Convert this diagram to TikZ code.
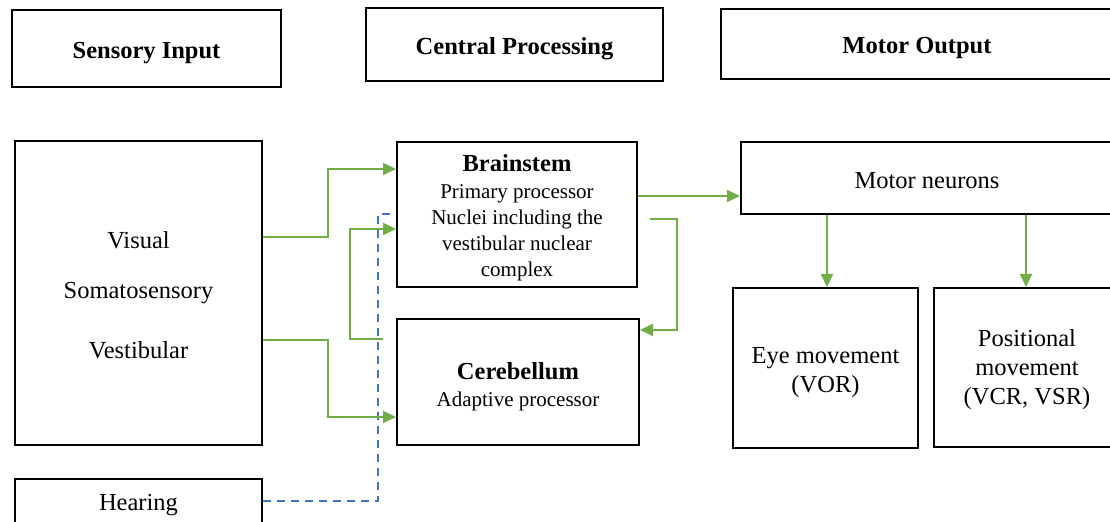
\documentclass[tikz,border=0pt]{standalone}
\usepackage{fontspec}
\setmainfont{Liberation Serif}
\usetikzlibrary{arrows.meta}
\definecolor{lgreen}{HTML}{70AD47}
\definecolor{lblue}{HTML}{4472C4}
\newcommand\bigtxt{\fontsize{12.25}{14.5}\selectfont}
\newcommand\smalltxt{\fontsize{10.5}{13}\selectfont}
\tikzset{
  box/.style={draw=black, line width=1pt, inner sep=0pt},
  txt/.style={inner sep=0pt, align=center, font=\bigtxt},
  stxt/.style={inner sep=0pt, align=center, font=\smalltxt},
  garrow/.style={draw=lgreen, line width=1pt, -{Triangle[length=6.5pt,width=6pt]}},
  dline/.style={draw=lblue, line width=1pt, dash pattern=on 4pt off 3pt}
}
\begin{document}
\begin{tikzpicture}[x=0.5pt,y=-0.5pt]
\useasboundingbox (0,0) rectangle (1110,522);
% headers
\node[box, minimum width=134.5pt, minimum height=38.5pt] (sens) at (146.5,48.5) {};
\node[box, minimum width=148.5pt, minimum height=36.5pt] (cent) at (514.5,44.5) {};
\node[box, minimum width=196pt, minimum height=35pt] (mout) at (917,44) {};
\node[txt] (sensT) at ([yshift=-2.5pt]sens.center) {\textbf{Sensory Input}};
\node[txt] (centT) at ([yshift=-2pt]cent.center) {\textbf{Central Processing}};
\node[txt] (moutT) at ([yshift=-2pt]mout.center) {\textbf{Motor Output}};
% inputs
\node[box, minimum width=123.5pt, minimum height=152pt] (vis) at (138.5,293) {};
\node[txt] (visT) at ([yshift=-1pt]vis.center) {Visual\\[10.5pt]Somatosensory\\[15.5pt]Vestibular};
\node[box, minimum width=123.5pt, minimum height=24.5pt] (hear) at (138.5,503.5) {};
\node[txt] (hearT) at ([yshift=-1pt]hear.center) {Hearing};
% central
\node[box, minimum width=120pt, minimum height=72.5pt] (brain) at (517,214.5) {};
\node[stxt] (brainT) at ([yshift=-1.5pt]brain.center) {{\bigtxt\textbf{Brainstem}}\\[0.5pt]Primary processor\\Nuclei including the\\vestibular nuclear\\complex};
\node[box, minimum width=121pt, minimum height=63pt] (cereb) at (518,382) {};
\node[stxt] (cerebT) at ([yshift=-2.25pt]cereb.center) {{\bigtxt\textbf{Cerebellum}}\\[0.5pt]Adaptive processor};
% motor
\node[box, minimum width=186pt, minimum height=36pt] (mn) at (927,178) {};
\node[txt] (mnT) at ([yshift=-1.5pt]mn.center) {Motor neurons};
\node[box, minimum width=92.5pt, minimum height=80pt] (eye) at (825.5,368) {};
\node[txt] (eyeT) at ([yshift=-2.5pt]eye.center) {Eye movement\\(VOR)};
\node[box, minimum width=93pt, minimum height=79.5pt] (pos) at (1027,367.5) {};
\node[txt] (posT) at ([yshift=-1.25pt]pos.center) {Positional\\movement\\(VCR, VSR)};
% coordinates
\coordinate (j1) at (328,237);
\coordinate (j2) at (328,169);
\coordinate (j3) at (328,340);
\coordinate (j4) at (328,417);
\coordinate (f0) at (383,339);
\coordinate (f1) at (350,339);
\coordinate (f2) at (350,229);
\coordinate (b0) at (650,219);
\coordinate (b1) at (677,219);
\coordinate (b2) at (677,330);
\coordinate (m0) at (690,196);
\coordinate (e0) at (827,250);
\coordinate (p0) at (1026,250);
\coordinate (h1) at (378,501);
\coordinate (h2) at (378,214);
% hearing dashed
\draw[dline] (hear.east |- h1) -- (h1) -- (h2) -- (brain.west |- h2);
% green connectors
\draw[garrow] (vis.east |- j1) -- (j1) -- (j2) -- (brain.west |- j2);
\draw[garrow] (vis.east |- j3) -- (j3) -- (j4) -- (cereb.west |- j4);
\draw[garrow] (f0) -- (f1) -- (f2) -- (brain.west |- f2);
\draw[garrow] (b0) -- (b1) -- (b2) -- (cereb.east |- b2);
\draw[garrow] (brain.east |- m0) -- (mn.west |- m0);
\draw[garrow] (mn.south -| e0) -- (eye.north -| e0);
\draw[garrow] (mn.south -| p0) -- (pos.north -| p0);
\end{tikzpicture}
\end{document}
